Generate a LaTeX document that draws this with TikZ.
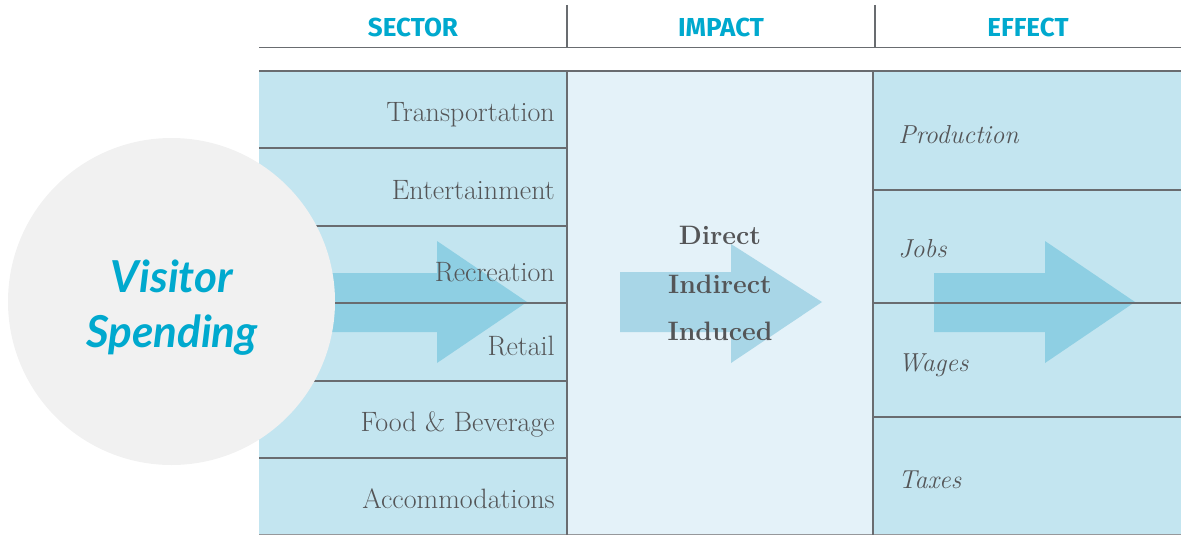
\documentclass[tikz,border=0pt]{standalone}
\usepackage{fontspec}
\newfontfamily\headfont{Fira Sans}
\newfontfamily\scriptfnt{Lato}
\definecolor{cellblue}{RGB}{195,229,240}
\definecolor{impactblue}{RGB}{228,242,249}
\definecolor{arrowblue}{RGB}{142,207,227}
\definecolor{arrowlight}{RGB}{168,214,231}
\definecolor{rulegray}{RGB}{105,108,112}
\definecolor{textgray}{RGB}{84,85,87}
\definecolor{headcyan}{RGB}{0,169,206}
\definecolor{circlegray}{RGB}{241,241,241}
\tikzset{
  rule/.style={draw=rulegray, line width=1.3pt},
  header/.style={font=\headfont\bfseries\fontsize{19.5}{20}\selectfont, text=headcyan, anchor=base, inner sep=0pt},
  sector/.style={font=\fontsize{21}{22}\selectfont, text=textgray, anchor=base east, inner sep=0pt},
  impact/.style={font=\bfseries\fontsize{20}{21}\selectfont, text=textgray, anchor=base, inner sep=0pt},
  effect/.style={font=\itshape\fontsize{19.5}{20}\selectfont, text=textgray, anchor=base west, inner sep=0pt},
  script/.style={font=\scriptfnt\bfseries\itshape\fontsize{33}{35}\selectfont, text=headcyan, anchor=base, inner sep=0pt},
}
\begin{document}
\begin{tikzpicture}[x=0.75pt,y=-0.75pt]
\useasboundingbox (0,0) rectangle (1181,535);
% column fills
\fill[cellblue] (259,71) rectangle (567,535);
\fill[impactblue] (567,71) rectangle (873,535);
\fill[cellblue] (873,71) rectangle (1181,535);
% arrows
\fill[arrowblue] (300,273) -- (437,273) -- (437,241) -- (527,302) -- (437,363) -- (437,332) -- (300,332) -- cycle;
\fill[arrowlight] (620,272) -- (731,272) -- (731,244) -- (822,302) -- (731,363) -- (731,332) -- (620,332) -- cycle;
\fill[arrowblue] (934,273) -- (1045,273) -- (1045,241) -- (1135,302) -- (1045,363) -- (1045,332) -- (934,332) -- cycle;
% header rules
\draw[rule] (259,47.5) -- (1181,47.5);
\draw[rule] (567,5) -- (567,47.5);
\draw[rule] (875,5) -- (875,47.5);
% table rules
\draw[rule] (259,71) -- (1181,71);
\draw[rule, line width=0.8pt, draw=rulegray!70] (259,534.5) -- (1181,534.5);
\draw[rule] (567,71) -- (567,535);
\draw[rule] (873,71) -- (873,535);
\foreach \yy in {148,226,303,381,458} \draw[rule] (259,\yy) -- (567,\yy);
\foreach \yy in {190,303,417} \draw[rule] (873,\yy) -- (1181,\yy);
% circle
\node[circle, fill=circlegray, minimum size=245.25pt, inner sep=0pt] (circ) at (171.5,301.5) {};
\node[script] (vis) at (172,292) {Visitor};
\node[script] (spend) at (172,347) {Spending};
% headers
\node[header] (hsector) at (413,36.5) {SECTOR};
\node[header] (himpact) at (721,36.5) {IMPACT};
\node[header] (heffect) at (1028,36.5) {EFFECT};
% sector labels
\node[sector] (s1) at (555,122) {Transportation};
\node[sector] (s2) at (555,199) {Entertainment};
\node[sector] (s3) at (555,281) {Recreation};
\node[sector] (s4) at (555,355) {Retail};
\node[sector] (s5) at (555,431) {Food \& Beverage};
\node[sector] (s6) at (555,508) {Accommodations};
% impact labels
\node[impact] (i1) at (720,244) {Direct};
\node[impact] (i2) at (720,293) {Indirect};
\node[impact] (i3) at (720,340) {Induced};
% effect labels
\node[effect] (e1) at (898,143) {Production};
\node[effect] (e2) at (898,257) {Jobs};
\node[effect] (e3) at (898,371) {Wages};
\node[effect] (e4) at (898,488) {Taxes};
\end{tikzpicture}
\end{document}
